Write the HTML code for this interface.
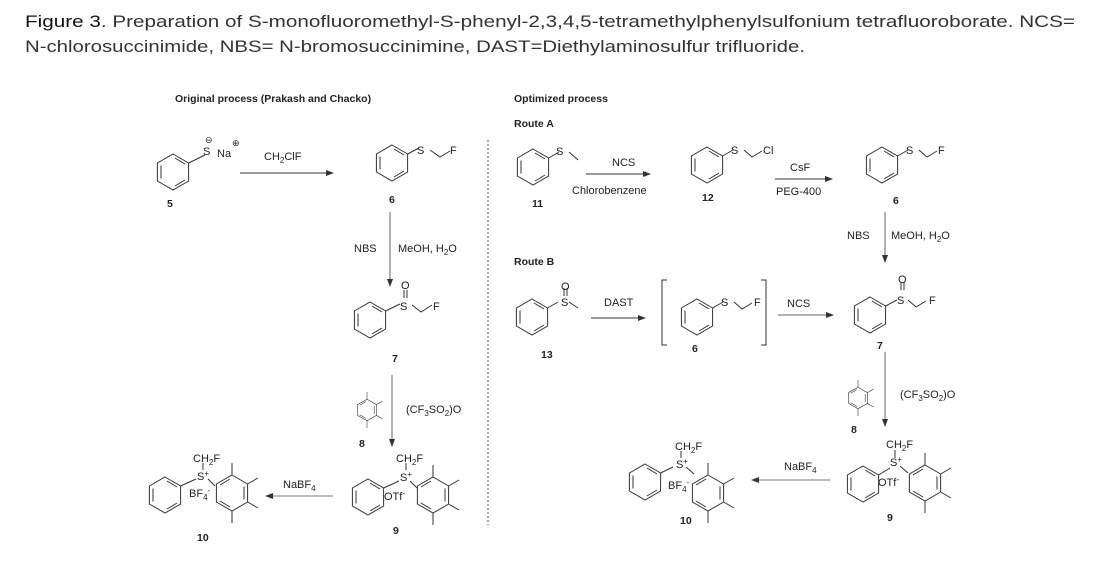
<!DOCTYPE html>
<html><head><meta charset="utf-8"><style>
html,body{margin:0;padding:0;background:#fff;width:1112px;height:564px;overflow:hidden}
svg{display:block}
text{font-family:"Liberation Sans",Arial,sans-serif;fill:#222}
.s{font-size:11px}
.b{font-size:10.5px;font-weight:bold}
.c{font-size:17px;fill:#333}
</style></head><body>
<svg width="1112" height="564" viewBox="0 0 1112 564" xmlns="http://www.w3.org/2000/svg">
<defs>
<g id="bz" fill="none" stroke="#333" stroke-width="1">
<polygon points="0,-18 15.6,-9 15.6,9 0,18 -15.6,9 -15.6,-9"/>
<line x1="-12" y1="-6.5" x2="-12" y2="6.5"/>
<line x1="2" y1="-14" x2="12" y2="-8"/>
<line x1="2" y1="14" x2="12" y2="8"/>
</g>
<g id="tm" fill="none" stroke="#333" stroke-width="1">
<polygon points="0,-18 15.6,-9 15.6,9 0,18 -15.6,9 -15.6,-9"/>
<line x1="12" y1="-6.5" x2="12" y2="6.5"/>
<line x1="-2" y1="-14" x2="-12" y2="-8"/>
<line x1="-2" y1="14" x2="-12" y2="8"/>
<line x1="0" y1="-18" x2="0" y2="-30"/>
<line x1="15.6" y1="-9" x2="26" y2="-15"/>
<line x1="15.6" y1="9" x2="26" y2="15"/>
<line x1="0" y1="18" x2="0" y2="30"/>
</g>
<marker id="ah" markerWidth="8" markerHeight="6" refX="7" refY="3" orient="auto" markerUnits="userSpaceOnUse"><path d="M0,0 L8,3 L0,6z" fill="#333"/></marker>
</defs>

<text class="c" x="25" y="27" textLength="1050" lengthAdjust="spacingAndGlyphs"><tspan style="fill:#111">Figure 3</tspan>. Preparation of S-monofluoromethyl-S-phenyl-2,3,4,5-tetramethylphenylsulfonium tetrafluoroborate. NCS=</text>
<text class="c" x="25" y="52" textLength="780" lengthAdjust="spacingAndGlyphs">N-chlorosuccinimide, NBS= N-bromosuccinimine, DAST=Diethylaminosulfur trifluoride.</text>

<text class="b" x="175" y="102">Original process (Prakash and Chacko)</text>
<text class="b" x="514" y="102">Optimized process</text>
<text class="b" x="514" y="127">Route A</text>
<text class="b" x="514" y="265">Route B</text>

<line x1="488" y1="140" x2="488" y2="525" stroke="#555" stroke-dasharray="2,2"/>

<g stroke="#333" stroke-width="1" fill="none">
<use href="#bz" x="173" y="172"/>
<line x1="188.6" y1="163" x2="205" y2="155"/>
<line x1="240" y1="173" x2="333" y2="173" marker-end="url(#ah)"/>
<use href="#bz" x="392" y="163"/>
<polyline points="407.6,154 419,148"/><polyline points="430,150 440,157 450,151"/>
<line x1="390" y1="212" x2="390" y2="286" marker-end="url(#ah)" stroke="#666"/>
<use href="#bz" x="370" y="320"/>
<polyline points="385.6,311 400,304"/><polyline points="412,305 421,312 432,305"/>
<line x1="404" y1="290" x2="404" y2="298"/><line x1="407" y1="290" x2="407" y2="298"/>
<use href="#tm" transform="translate(367 410) scale(0.6)"/>
<line x1="392" y1="375" x2="392" y2="446" marker-end="url(#ah)" stroke="#666"/>
<use href="#bz" x="368" y="497"/>
<line x1="383.6" y1="488" x2="399" y2="481"/>
<line x1="410" y1="481" x2="417" y2="488"/>
<line x1="406" y1="470" x2="406" y2="463"/>
<use href="#tm" x="433" y="495"/>
<line x1="333" y1="496" x2="266" y2="496" marker-end="url(#ah)" stroke="#777"/>
<use href="#bz" x="165" y="495"/>
<line x1="180.6" y1="486" x2="196" y2="479"/>
<line x1="208" y1="479" x2="215" y2="486"/>
<line x1="203" y1="470" x2="203" y2="463"/>
<use href="#tm" x="232" y="493"/>

<use href="#bz" x="533" y="167"/>
<line x1="548.6" y1="158" x2="559" y2="152"/><line x1="569" y1="152" x2="578" y2="160"/>
<line x1="586" y1="174" x2="650" y2="174" marker-end="url(#ah)"/>
<use href="#bz" x="707" y="165"/>
<line x1="722.6" y1="156" x2="733" y2="150"/><polyline points="744,150 752,157 762,151"/>
<line x1="775" y1="179" x2="832" y2="179" marker-end="url(#ah)"/>
<use href="#bz" x="882" y="165"/>
<line x1="897.6" y1="156" x2="908" y2="150"/><polyline points="919,150 927,157 937,151"/>
<line x1="885" y1="212" x2="885" y2="262" marker-end="url(#ah)" stroke="#666"/>

<use href="#bz" x="532" y="317"/>
<line x1="547.6" y1="308" x2="558" y2="302"/><line x1="569" y1="302" x2="578" y2="308"/>
<line x1="564" y1="288" x2="564" y2="296"/><line x1="567" y1="288" x2="567" y2="296"/>
<line x1="591" y1="318" x2="645" y2="318" marker-end="url(#ah)"/>
<polyline points="667,280 662,280 662,345 667,345"/>
<polyline points="761,280 766,280 766,345 761,345"/>
<use href="#bz" x="697" y="317"/>
<line x1="712.6" y1="308" x2="723" y2="302"/><polyline points="734,302 742,309 752,303"/>
<line x1="778" y1="315" x2="833" y2="315" marker-end="url(#ah)" stroke="#666"/>
<use href="#bz" x="870" y="315"/>
<line x1="885.6" y1="306" x2="897" y2="300"/><polyline points="908,300 916,307 926,301"/>
<line x1="901" y1="282" x2="901" y2="290"/><line x1="904" y1="282" x2="904" y2="290"/>
<line x1="885" y1="352" x2="885" y2="426" marker-end="url(#ah)" stroke="#666"/>
<use href="#tm" transform="translate(858 398) scale(0.6)"/>
<use href="#bz" x="863" y="484"/>
<line x1="878.6" y1="475" x2="890" y2="468"/>
<line x1="900" y1="466" x2="908" y2="473"/>
<line x1="895" y1="458" x2="895" y2="450"/>
<use href="#tm" x="925" y="483"/>
<line x1="830" y1="480" x2="752" y2="480" marker-end="url(#ah)" stroke="#777"/>
<use href="#bz" x="645" y="482"/>
<line x1="660.6" y1="473" x2="673" y2="467"/>
<line x1="686" y1="467" x2="694" y2="474"/>
<line x1="681" y1="458" x2="681" y2="451"/>
<use href="#tm" x="708" y="493"/>
</g>

<text class="s" x="203" y="155">S</text><text class="s" x="217" y="157">Na</text>
<text class="s" x="205" y="143" style="font-size:9px">⊖</text><text class="s" x="232" y="146" style="font-size:9px">⊕</text>
<text class="b" x="167" y="207">5</text>
<text class="s" x="264" y="160">CH<tspan dy="3" font-size="8">2</tspan><tspan dy="-3">ClF</tspan></text>
<text class="s" x="417" y="154">S</text><text class="s" x="450" y="154">F</text>
<text class="b" x="389" y="203">6</text>
<text class="s" x="354" y="252">NBS</text>
<text class="s" x="398" y="252">MeOH, H<tspan dy="3" font-size="8">2</tspan><tspan dy="-3">O</tspan></text>
<text class="s" x="401" y="289">O</text>
<text class="s" x="400" y="310">S</text><text class="s" x="433" y="310">F</text>
<text class="b" x="392" y="362">7</text>
<text class="s" x="406" y="413">(CF<tspan dy="3" font-size="8">3</tspan><tspan dy="-3">SO</tspan><tspan dy="3" font-size="8">2</tspan><tspan dy="-3">)O</tspan></text>
<text class="b" x="359" y="447">8</text>
<text class="s" x="396" y="462">CH<tspan dy="3" font-size="8">2</tspan><tspan dy="-3">F</tspan></text>
<text class="s" x="400" y="481">S<tspan dy="-4" font-size="8">+</tspan></text>
<text class="s" x="384" y="500">OTf<tspan dy="-4" font-size="8">-</tspan></text>
<text class="b" x="393" y="534">9</text>
<text class="s" x="283" y="488">NaBF<tspan dy="3" font-size="8">4</tspan></text>
<text class="s" x="193" y="462">CH<tspan dy="3" font-size="8">2</tspan><tspan dy="-3">F</tspan></text>
<text class="s" x="197" y="480">S<tspan dy="-4" font-size="8">+</tspan></text>
<text class="s" x="189" y="497">BF<tspan dy="3" font-size="8">4</tspan><tspan dy="-7" font-size="8">-</tspan></text>
<text class="b" x="197" y="541">10</text>

<text class="s" x="556" y="155">S</text>
<text class="b" x="532" y="207">11</text>
<text class="s" x="612" y="166">NCS</text>
<text class="s" x="572" y="194">Chlorobenzene</text>
<text class="s" x="731" y="154">S</text><text class="s" x="763" y="154">Cl</text>
<text class="b" x="702" y="201">12</text>
<text class="s" x="790" y="171">CsF</text>
<text class="s" x="776" y="195">PEG-400</text>
<text class="s" x="906" y="154">S</text><text class="s" x="938" y="154">F</text>
<text class="b" x="893" y="204">6</text>
<text class="s" x="847" y="239">NBS</text>
<text class="s" x="891" y="239">MeOH, H<tspan dy="3" font-size="8">2</tspan><tspan dy="-3">O</tspan></text>
<text class="s" x="561" y="290">O</text>
<text class="s" x="561" y="306">S</text>
<text class="b" x="541" y="358">13</text>
<text class="s" x="604" y="306">DAST</text>
<text class="s" x="721" y="306">S</text><text class="s" x="754" y="306">F</text>
<text class="b" x="692" y="352">6</text>
<text class="s" x="787" y="307">NCS</text>
<text class="s" x="898" y="283">O</text>
<text class="s" x="897" y="304">S</text><text class="s" x="929" y="304">F</text>
<text class="b" x="877" y="349">7</text>
<text class="s" x="900" y="398">(CF<tspan dy="3" font-size="8">3</tspan><tspan dy="-3">SO</tspan><tspan dy="3" font-size="8">2</tspan><tspan dy="-3">)O</tspan></text>
<text class="b" x="851" y="433">8</text>
<text class="s" x="886" y="448">CH<tspan dy="3" font-size="8">2</tspan><tspan dy="-3">F</tspan></text>
<text class="s" x="890" y="466">S<tspan dy="-4" font-size="8">+</tspan></text>
<text class="s" x="878" y="486">OTf<tspan dy="-4" font-size="8">-</tspan></text>
<text class="b" x="887" y="521">9</text>
<text class="s" x="784" y="470">NaBF<tspan dy="3" font-size="8">4</tspan></text>
<text class="s" x="675" y="450">CH<tspan dy="3" font-size="8">2</tspan><tspan dy="-3">F</tspan></text>
<text class="s" x="676" y="468">S<tspan dy="-4" font-size="8">+</tspan></text>
<text class="s" x="668" y="489">BF<tspan dy="3" font-size="8">4</tspan><tspan dy="-7" font-size="8">-</tspan></text>
<text class="b" x="680" y="524">10</text>
</svg>
</body></html>
